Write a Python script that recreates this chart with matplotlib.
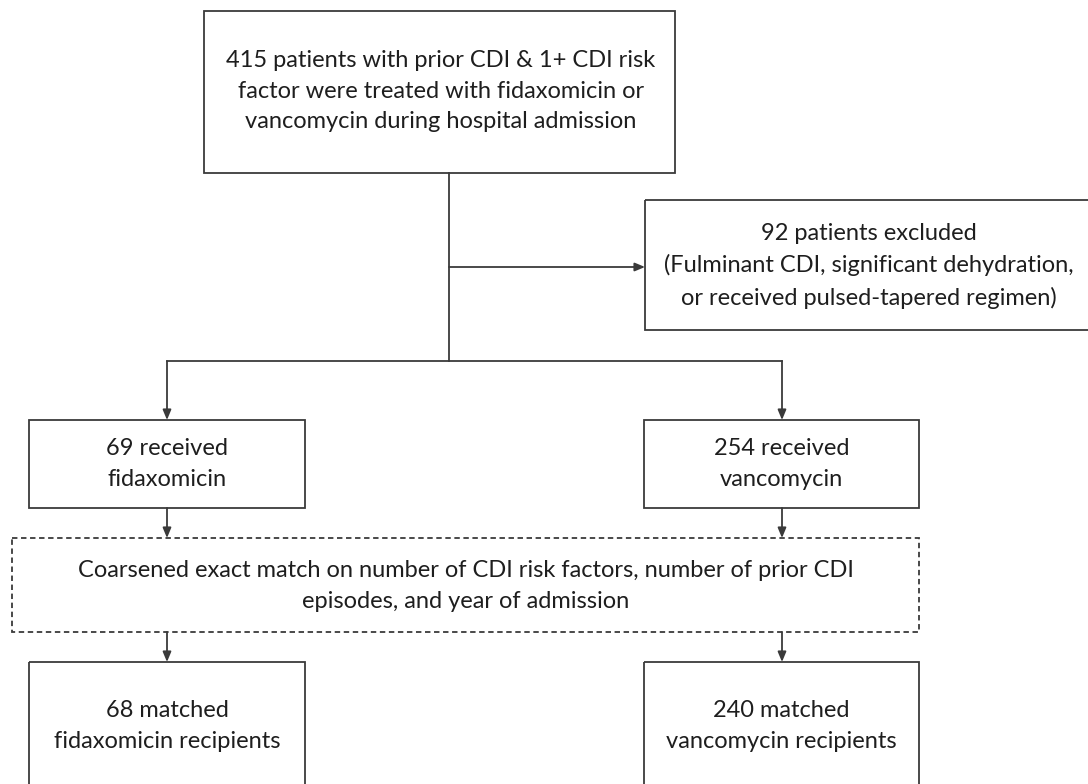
import matplotlib.pyplot as plt
from matplotlib.patches import Rectangle

# counts shown in the flow diagram
n_total = 415
n_excluded = 92
n_fidax = 69
n_vanco = 254
n_fidax_matched = 68
n_vanco_matched = 240

top_text = (f"{n_total} patients with prior CDI & 1+ CDI risk\n"
            "factor were treated with fidaxomicin or\n"
            "vancomycin during hospital admission")
excl_text = (f"{n_excluded} patients excluded\n"
             "(Fulminant CDI, significant dehydration,\n"
             "or received pulsed-tapered regimen)")
arm_texts = [f"{n_fidax} received\nfidaxomicin", f"{n_vanco} received\nvancomycin"]
match_text = ("Coarsened exact match on number of CDI risk factors, number of prior CDI\n"
              "episodes, and year of admission")
final_texts = [f"{n_fidax_matched} matched\nfidaxomicin recipients",
               f"{n_vanco_matched} matched\nvancomycin recipients"]

plt.rcParams['font.family'] = ['Lato', 'DejaVu Sans']

W, H = 1088, 784
fig = plt.figure(figsize=(W / 100, H / 100), dpi=100)
ax = fig.add_axes([0, 0, 1, 1])
ax.set_xlim(0, W)
ax.set_ylim(H, 0)
ax.axis('off')

lc = '#3a3a3a'
lw = 1.3
fs = 17


def box(x0, y0, x1, y1, text, ls='-', ty=None, tx=None):
    ax.add_patch(Rectangle((x0, y0), x1 - x0, y1 - y0, fill=False,
                           ec=lc, lw=lw, ls=ls, clip_on=False))
    cy = (y0 + y1) / 2 if ty is None else ty
    cx = (x0 + x1) / 2 if tx is None else tx
    ax.text(cx, cy, text, ha='center', va='center', fontsize=fs,
            color='#1e1e1e', linespacing=1.58)


def arrow(x0, y0, x1, y1):
    ax.annotate('', xy=(x1, y1), xytext=(x0, y0),
                arrowprops=dict(arrowstyle='-|>,head_length=0.6,head_width=0.25',
                                color=lc, lw=lw, shrinkA=0, shrinkB=0))


# boxes
box(204, 11, 675, 173, top_text, ty=91, tx=441)
box(645, 200, 1100, 330, excl_text, ty=266, tx=869)
box(29, 420, 305, 508, arm_texts[0], ty=464)
box(644, 420, 919, 508, arm_texts[1], ty=464)
box(12, 538, 919, 632, match_text, ls=(0, (3, 2)), ty=586)
box(29, 662, 305, 800, final_texts[0], ty=726)
box(644, 662, 919, 800, final_texts[1], ty=726)

# connectors
ax.plot([449, 449], [173, 361], color=lc, lw=lw)
arrow(449, 267, 645, 267)
ax.plot([167, 782], [361, 361], color=lc, lw=lw)
for x in (167, 782):
    arrow(x, 361, x, 420)
    arrow(x, 508, x, 538)
    arrow(x, 632, x, 662)

fig.savefig('out.png', dpi=100, facecolor='white')
